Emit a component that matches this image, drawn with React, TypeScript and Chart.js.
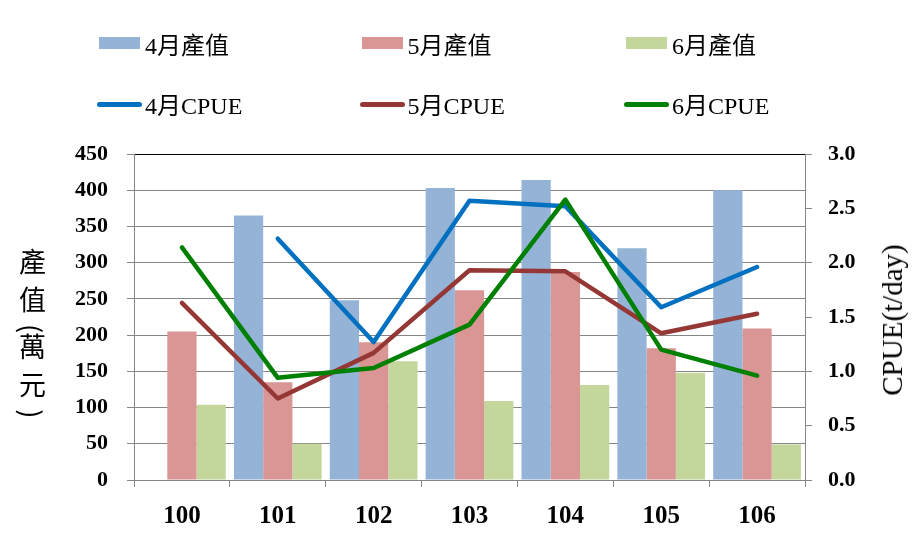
import React, { useEffect, useRef } from "react";
import { Chart, registerables } from "chart.js";

Chart.register(...registerables);

const categories = ["100", "101", "102", "103", "104", "105", "106"];
const value4 = [null, 365, 248, 403, 414, 320, 400];
const value5 = [205, 135, 190, 262, 287, 182, 209];
const value6 = [104, 50, 164, 109, 131, 148, 49];
const cpue4 = [null, 2.22, 1.27, 2.57, 2.52, 1.59, 1.96];
const cpue5 = [1.63, 0.75, 1.17, 1.93, 1.92, 1.35, 1.53];
const cpue6 = [2.14, 0.94, 1.03, 1.43, 2.58, 1.2, 0.96];
const leftTicks = { min: 0, max: 450, step: 50 };
const rightTicks = { min: 0, max: 3, step: 0.5 };

const barLabels = ["4月產值", "5月產值", "6月產值"];
const lineLabels = ["4月CPUE", "5月CPUE", "6月CPUE"];
const barColors = ["#95B3D7", "#D99694", "#C3D69B"];
const lineColors = ["#0070C0", "#953735", "#008000"];

const SERIF = '"Liberation Serif", "Times New Roman", "Noto Sans CJK TC", serif';
const CJK = '"Noto Sans CJK TC", "Liberation Serif", serif';
const GRID = "#868686";

export default function App() {
  const ref = useRef<HTMLCanvasElement | null>(null);

  useEffect(() => {
    if (!ref.current) return;
    const barDs = [value4, value5, value6].map((d, i) => ({
      type: "bar" as const,
      label: barLabels[i],
      data: d,
      backgroundColor: barColors[i],
      borderWidth: 0,
      yAxisID: "y",
      order: 10,
      categoryPercentage: 0.915,
      barPercentage: 1,
    }));
    const lineDs = [cpue4, cpue5, cpue6].map((d, i) => ({
      type: "line" as const,
      label: lineLabels[i],
      data: d,
      borderColor: lineColors[i],
      backgroundColor: lineColors[i],
      borderWidth: 4.5,
      pointRadius: 0,
      pointHoverRadius: 0,
      tension: 0,
      spanGaps: false,
      borderCapStyle: "round" as const,
      borderJoinStyle: "round" as const,
      yAxisID: "y1",
      order: 3 - i,
    }));
    const chart = new Chart(ref.current, {
      type: "bar",
      data: { labels: categories, datasets: [...barDs, ...lineDs] as any },
      options: {
        animation: false,
        responsive: false,
        devicePixelRatio: 1,
        layout: { padding: { top: 154, left: 0, right: 0, bottom: 0 } },
        plugins: { legend: { display: false }, tooltip: { enabled: false } },
        scales: {
          x: {
            type: "category",
            offset: true,
            grid: { offset: true, drawOnChartArea: false, color: GRID, tickLength: 7 },
            border: { color: GRID },
            ticks: {
              color: "#000",
              font: { family: SERIF, size: 25, weight: "bold" },
              padding: 15,
            },
            afterFit: (s: any) => {
              s.height = 74;
            },
          },
          y: {
            position: "left",
            min: leftTicks.min,
            max: leftTicks.max,
            ticks: {
              stepSize: leftTicks.step,
              color: "#000",
              font: { family: SERIF, size: 22, weight: "bold" },
              padding: 19,
            },
            grid: {
              color: (c: any) => (c.tick && c.tick.value === leftTicks.max ? "#000" : GRID),
              tickColor: GRID,
              tickLength: 7,
            },
            border: { color: GRID },
            afterFit: (s: any) => {
              s.width = 134;
            },
          },
          y1: {
            position: "right",
            min: rightTicks.min,
            max: rightTicks.max,
            ticks: {
              stepSize: rightTicks.step,
              color: "#000",
              font: { family: SERIF, size: 22, weight: "bold" },
              padding: 16,
              callback: (v: any) => Number(v).toFixed(1),
            },
            grid: { drawOnChartArea: false, color: GRID, tickLength: 7 },
            border: { color: GRID },
            afterFit: (s: any) => {
              s.width = 117;
            },
          },
        },
      } as any,
    });
    return () => chart.destroy();
  }, []);

  const colX = [99, 361.5, 626];
  const legendText: React.CSSProperties = {
    position: "absolute",
    font: `24px ${SERIF}`,
    color: "#000",
    whiteSpace: "nowrap",
    lineHeight: "24px",
  };

  const leftTitle = "產值(萬元)".split("");

  return (
    <div style={{ position: "absolute", left: 0, top: 0, width: 922, height: 554, background: "#fff", overflow: "hidden" }}>
      <canvas ref={ref} width={922} height={554} style={{ position: "absolute", left: 0, top: 0, width: 922, height: 554 }} />
      {barLabels.map((t, i) => (
        <React.Fragment key={"b" + i}>
          <div style={{ position: "absolute", left: colX[i], top: 36.5, width: 41, height: 12, background: barColors[i] }} />
          <div style={{ ...legendText, left: colX[i] + 46, top: 34 }}>{t}</div>
        </React.Fragment>
      ))}
      {lineLabels.map((t, i) => (
        <React.Fragment key={"l" + i}>
          <div style={{ position: "absolute", left: colX[i] - 2, top: 102, width: 45, height: 5, borderRadius: 3, background: lineColors[i] }} />
          <div style={{ ...legendText, left: colX[i] + 46, top: 94 }}>{t}</div>
        </React.Fragment>
      ))}
      <div
        style={{
          position: "absolute",
          left: 18,
          top: 248,
          writingMode: "vertical-rl",
          font: `27px ${CJK}`,
          lineHeight: "28px",
          color: "#000",
          whiteSpace: "nowrap",
        }}
      >
        {leftTitle.map((c, i) => (
          <span key={i} style={{ letterSpacing: /[()]/.test(c) ? "0px" : "11px" }}>
            {c}
          </span>
        ))}
      </div>
      <div
        style={{
          position: "absolute",
          left: 892,
          top: 320,
          transform: "translate(-50%, -50%) rotate(-90deg)",
          font: `29px ${SERIF}`,
          color: "#000",
          whiteSpace: "nowrap",
          lineHeight: "30px",
        }}
      >
        CPUE(t/day)
      </div>
    </div>
  );
}
